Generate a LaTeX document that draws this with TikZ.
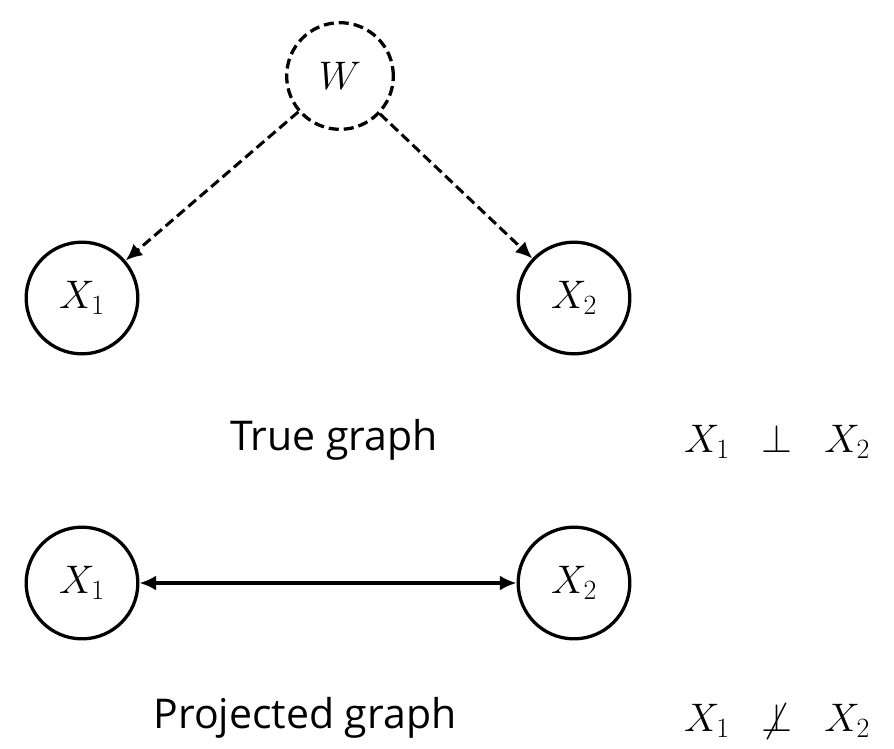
\RequirePackage{fix-cm}
\documentclass[tikz,border=0pt]{standalone}
\usepackage{fontspec}
\setmainfont{Open Sans}
\usetikzlibrary{arrows.meta, positioning}

\begin{document}
\begin{tikzpicture}[x=0.03cm, y=-0.03cm,
        var/.style={draw, circle, line width=2.8pt, minimum size=3.35cm, inner sep=0pt, font=\fontsize{34}{40}\selectfont},
        hidden/.style={var, dash pattern=on 0.3cm off 0.15cm, minimum size=3.2cm},
        edge/.style={line width=2.6pt, -{Latex[length=0.5cm, width=0.45cm]}},
        caption/.style={font=\fontsize{35}{40}\selectfont},
        rel/.style={font=\fontsize{34}{40}\selectfont}
      ]
        \useasboundingbox (0,0) rectangle (894,748);
        % true graph
        \node[hidden] (w) at (340,76) {$W$};
        \node[var] (xa) at (82,298) {$X_1$};
        \node[var] (xb) at (574,298) {$X_2$};
        \draw[edge, dash pattern=on 0.3cm off 0.15cm] (w)--(xa);
        \draw[edge, dash pattern=on 0.3cm off 0.15cm] (w)--(xb);
        \node[caption] (tcap) at (334,440) {True graph};
        \node[rel] (trel) at (777,442) {$X_1\ \ \perp\ \ X_2$};
        % projected graph
        \node[var] (pa) at (82,583) {$X_1$};
        \node[var] (pb) at (574,583) {$X_2$};
        \draw[edge, {Latex[length=0.5cm, width=0.45cm]}-{Latex[length=0.5cm, width=0.45cm]}] (pa)--(pb);
        \node[caption] (pcap) at (305,718) {Projected graph};
        \node[rel] (prel) at (777,722) {$X_1\ \ \not\perp\ \ X_2$};
      \end{tikzpicture}
\end{document}
